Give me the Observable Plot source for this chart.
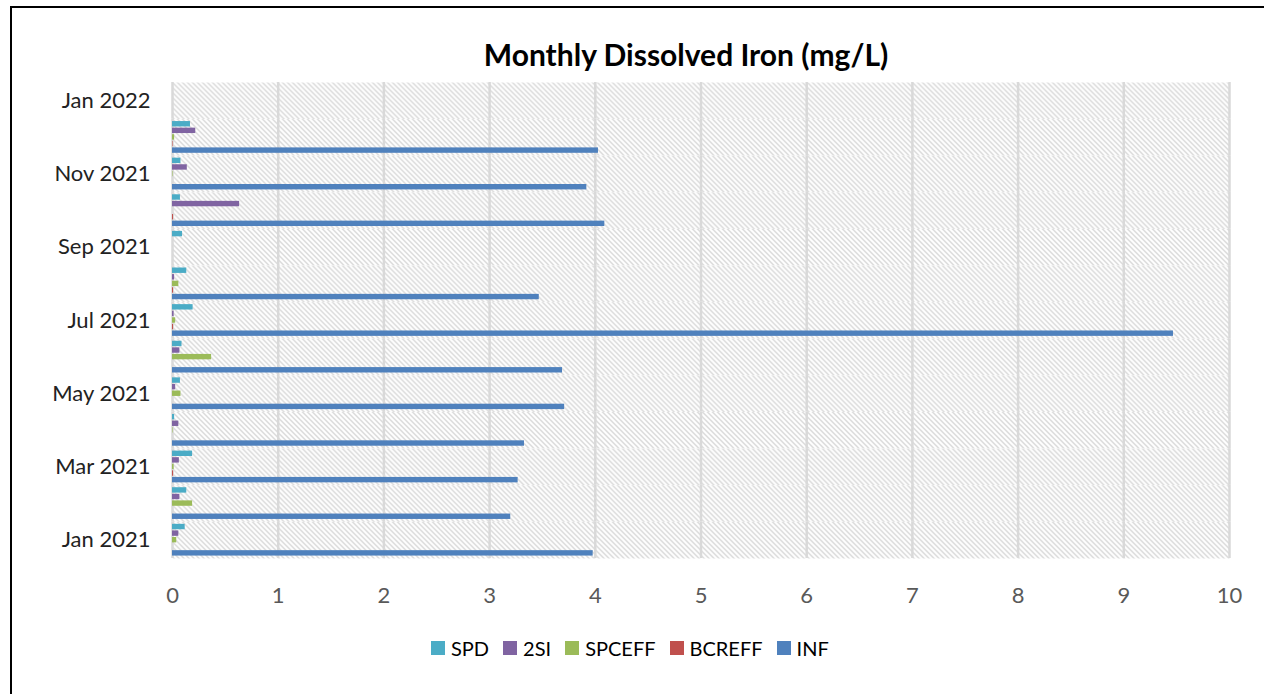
<!DOCTYPE html>
<html>
<head>
<meta charset="utf-8">
<script src="https://cdn.jsdelivr.net/npm/d3@7"></script>
<script src="https://cdn.jsdelivr.net/npm/@observablehq/plot@0.6"></script>
<style>
  html, body { margin: 0; padding: 0; background: #fff; overflow: hidden; }
  #wrap { position: relative; width: 1264px; height: 694px; font-family: Lato, "Open Sans", sans-serif; }
  #border { position: absolute; left: 10px; top: 6px; width: 1400px; height: 900px; border: 2px solid #000; box-sizing: border-box; }
  #title { position: absolute; left: 0; width: 1372px; top: 36px; text-align: center; font-weight: bold; font-size: 30px; color: #000; }
  #chart { position: absolute; left: 0; top: 0; }
  #legend { position: absolute; left: 431px; top: 636px; display: flex; align-items: center; font-size: 20px; color: #000; white-space: nowrap; }
  .item { display: flex; align-items: center; margin-right: 14px; }
  .sw { width: 14px; height: 14px; margin-right: 6px; }
</style>
</head>
<body>
<div id="wrap">
  <div id="border"></div>
  <div id="title">Monthly Dissolved Iron (mg/L)</div>
  <div id="chart"></div>
  <div id="legend"></div>
</div>
<script>
// ---- data ----
const months = ["Jan 2021","Feb 2021","Mar 2021","Apr 2021","May 2021","Jun 2021","Jul 2021","Aug 2021","Sep 2021","Oct 2021","Nov 2021","Dec 2021","Jan 2022"];
const monthLabels = ["Jan 2021","Mar 2021","May 2021","Jul 2021","Sep 2021","Nov 2021","Jan 2022"];
const seriesNames = ["SPD","2SI","SPCEFF","BCREFF","INF"];
const seriesColors = ["#4BACC6","#8064A2","#9BBB59","#C0504D","#4F81BD"];
const xTicks = [0,1,2,3,4,5,6,7,8,9,10];

const SPD    = [0.12, 0.135, 0.19, 0.02, 0.075, 0.09, 0.195, 0.135, 0.095, 0.075, 0.08, 0.17, null];
const SI2    = [0.06, 0.07, 0.065, 0.06, 0.03, 0.07, 0.015, 0.02, null, 0.635, 0.14, 0.22, null];
const SPCEFF = [0.04, 0.19, 0.015, 0.005, 0.08, 0.37, 0.03, 0.06, null, null, 0.005, 0.02, null];
const BCREFF = [0, 0, 0.01, 0, 0, 0, 0.01, 0.01, null, 0.01, 0, 0.005, null];
const INF    = [3.98, 3.20, 3.27, 3.33, 3.71, 3.69, 9.47, 3.47, null, 4.09, 3.92, 4.03, null];

const seriesValues = [SPD, SI2, SPCEFF, BCREFF, INF];

// keep missing values as null rows so every month keeps its facet
const rows = [];
seriesNames.forEach((s, i) => {
  seriesValues[i].forEach((v, j) => {
    rows.push({series: s, month: months[j], value: v});
  });
});

const chart = Plot.plot({
  width: 1264,
  height: 610,
  marginLeft: 172,
  marginRight: 35,
  marginTop: 82,
  marginBottom: 52,
  style: {fontFamily: "Lato, 'Open Sans', sans-serif", fontSize: "22px", color: "#595959", background: "transparent", overflow: "visible"},
  x: {domain: [0, 10], ticks: xTicks, tickSize: 0, tickPadding: 29, label: null},
  y: {domain: seriesNames, paddingInner: 0.18, paddingOuter: 0.37, round: false, axis: null},
  fy: {domain: months.slice().reverse(), padding: 0, round: false, axis: "left", tickSize: 0, tickPadding: 22, label: null,
       tickFormat: d => monthLabels.includes(d) ? d : ""},
  color: {domain: seriesNames, range: seriesColors},
  marks: [
    Plot.frame({fill: "url(#hatch)", stroke: null}),
    Plot.gridX(xTicks, {stroke: "#d9d9d9", strokeWidth: 2.5, strokeOpacity: 1}),
    Plot.barX(rows, {x: "value", y: "series", fy: "month", fill: "series"})
  ]
});

// hatch pattern
const svg = d3.select(chart);
const defs = svg.insert("defs", ":first-child");
const pat = defs.append("pattern").attr("id", "hatch").attr("patternUnits", "userSpaceOnUse")
  .attr("width", 5).attr("height", 5);
pat.append("rect").attr("width", 5).attr("height", 5).attr("fill", "#fff");
pat.append("path").attr("d", "M0,0L5,5M-1,4L1,6M4,-1L6,1").attr("stroke", "#cccccc").attr("stroke-width", 1.1);

// darker fy labels
svg.selectAll("[aria-label='fy-axis tick label'] text, [aria-label='fy-axis'] text").attr("fill", "#222");

document.getElementById("chart").appendChild(chart);

// legend
const leg = document.getElementById("legend");
seriesNames.forEach((s, i) => {
  const it = document.createElement("div");
  it.className = "item";
  const sw = document.createElement("div");
  sw.className = "sw";
  sw.style.background = seriesColors[i];
  const tx = document.createElement("span");
  tx.textContent = s;
  it.appendChild(sw); it.appendChild(tx);
  leg.appendChild(it);
});
</script>
</body>
</html>
